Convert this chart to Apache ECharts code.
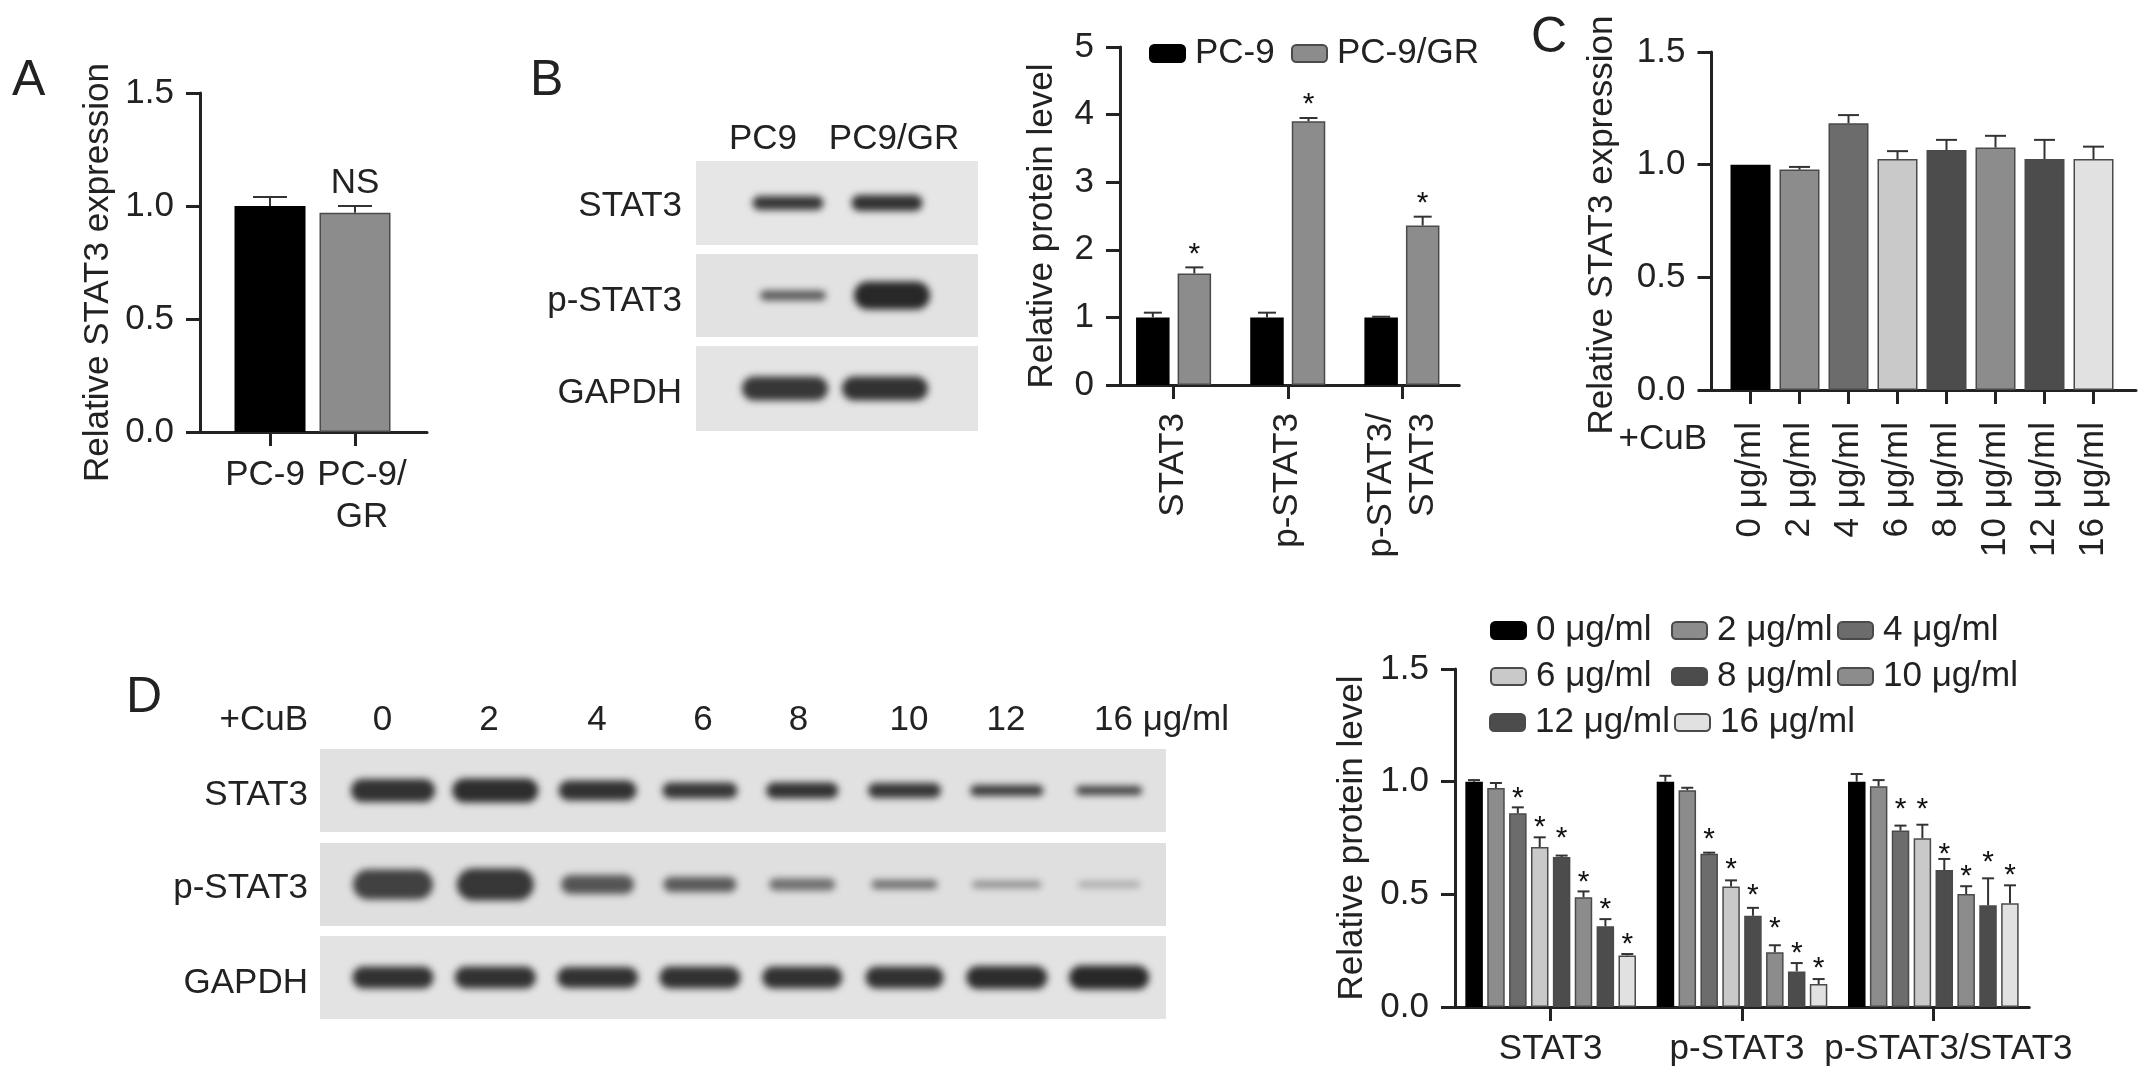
<!DOCTYPE html>
<html><head><meta charset="utf-8">
<script src="https://cdn.jsdelivr.net/npm/echarts@6/dist/echarts.min.js"></script>
<style>html,body{margin:0;padding:0;background:#fff}#c{width:2150px;height:1079px}</style>
</head><body><div id="c"></div>
<script>
// ---------- Panel A ----------
const aCategories = ['PC-9', 'PC-9/\nGR'];
const aValues = [1.0, 0.97];
const aErrTop = [1.04, 1.0];
const aMarkLevel = [null, 1.102];
// ---------- Panel B ----------
const bCategories = ['STAT3', 'p-STAT3', 'p-STAT3/\nSTAT3'];
const bSeriesNames = ['PC-9', 'PC-9/GR'];
const bPC9 = [1.0, 1.0, 1.0];
const bGR = [1.65, 3.9, 2.36];
const bPC9ErrTop = [1.07, 1.07, 1.01];
const bGRErrTop = [1.74, 3.95, 2.49];
const bGRStars = [2.01, 4.23, 2.77];
// ---------- Panel C ----------
const cCategories = ['0 μg/ml', '2 μg/ml', '4 μg/ml', '6 μg/ml', '8 μg/ml', '10 μg/ml', '12 μg/ml', '16 μg/ml'];
const cValues = [1.0, 0.978, 1.184, 1.025, 1.065, 1.076, 1.025, 1.025];
const cErrTop = [1.0, 0.99, 1.22, 1.06, 1.11, 1.128, 1.11, 1.08];
// ---------- Panel D (graph) ----------
const eCategories = ['STAT3', 'p-STAT3', 'p-STAT3/STAT3'];
const eSeriesNames = ['0 μg/ml', '2 μg/ml', '4 μg/ml', '6 μg/ml', '8 μg/ml', '10 μg/ml', '12 μg/ml', '16 μg/ml'];
const e0 = [1.0, 1.0, 1.0];
const e2 = [0.972, 0.962, 0.98];
const e4 = [0.86, 0.68, 0.783];
const e6 = [0.71, 0.535, 0.749];
const e8 = [0.666, 0.405, 0.608];
const e10 = [0.487, 0.243, 0.501];
const e12 = [0.358, 0.158, 0.451];
const e16 = [0.229, 0.102, 0.46];
const e0Err = [1.007, 1.026, 1.034];
const e2Err = [0.994, 0.973, 1.007];
const e4Err = [0.886, 0.685, 0.805];
const e6Err = [0.753, 0.562, 0.809];
const e8Err = [0.672, 0.44, 0.657];
const e10Err = [0.513, 0.274, 0.536];
const e12Err = [0.39, 0.195, 0.571];
const e16Err = [0.235, 0.124, 0.54];
const e4Star = [0.953, 0.768, 0.9];
const e6Star = [0.82, 0.636, 0.9];
const e8Star = [0.772, 0.521, 0.703];
const e10Star = [0.577, 0.373, 0.605];
const e12Star = [0.459, 0.262, 0.667];
const e16Star = [0.305, 0.198, 0.607];
// ---------- Western blot bands: [band width, band height, grey level] per lane ----------
const blotBLanes = ['PC9', 'PC9/GR'];
const blotBStat3 = [[75, 16, 55], [75, 18, 50]];
const blotBPStat3 = [[70, 12, 90], [80, 30, 40]];
const blotBGapdh = [[90, 26, 55], [90, 26, 50]];
const blotDLanes = ['0', '2', '4', '6', '8', '10', '12', '16'];
const blotDStat3 = [[88, 25, 50], [90, 26, 45], [82, 22, 50], [79, 18, 55], [76, 18, 50], [77, 17, 55], [77, 13, 60], [70, 11, 65]];
const blotDPStat3 = [[84, 32, 65], [81, 34, 55], [77, 21, 85], [77, 17, 90], [70, 14, 110], [70, 11, 110], [73, 9, 140], [66, 8, 165]];
const blotDGapdh = [[85, 24, 50], [85, 24, 50], [85, 23, 50], [85, 24, 50], [84, 24, 50], [82, 24, 50], [85, 25, 45], [84, 26, 40]];

const INK = '#222';
const FONT = 'Liberation Sans';
const TICK = 35, NAME = 35;
const GREYS = ['#000000', '#8c8c8c', '#6c6c6c', '#c9c9c9', '#4c4c4c', '#8c8c8c', '#4c4c4c', '#e1e1e1'];
const grid = [], xAxis = [], yAxis = [], series = [], legend = [], graphic = [];
const axisLine = { show: true, lineStyle: { color: INK, width: 3 } };
const axisTick = len => ({ show: true, length: len, lineStyle: { color: INK, width: 3 } });

function barPanel(o) {
  const g = grid.length;
  grid.push({ left: o.bandLeft, width: o.bandRight - o.bandLeft, top: o.top, height: o.bottom - o.top, outerBoundsMode: 'none', containLabel: false });
  xAxis.push({
    type: 'category', gridIndex: g, data: o.categories, boundaryGap: true,
    axisLine, axisTick: Object.assign(axisTick(14), { alignWithLabel: true }),
    axisLabel: { interval: 0, margin: o.labelMargin, fontSize: o.labelSize || TICK, color: INK, fontFamily: FONT, lineHeight: o.labelLineHeight || 40, rotate: o.labelRotate || 0, hideOverlap: false },
    splitLine: { show: false }
  });
  yAxis.push({
    type: 'value', gridIndex: g, min: 0, max: o.max, interval: o.interval, offset: o.bandLeft - o.axisX,
    axisLine, axisTick: axisTick(14),
    axisLabel: { margin: 26, fontSize: TICK, color: INK, fontFamily: FONT, padding: [7, 0, 0, 0], formatter: v => v.toFixed(o.digits), hideOverlap: false, showMinLabel: true, showMaxLabel: true },
    splitLine: { show: false },
    name: o.yName, nameLocation: 'middle', nameGap: o.nameGap, nameRotate: 90, nameMoveOverlap: false,
    nameTextStyle: { fontSize: NAME, color: INK, fontFamily: FONT, padding: o.namePadding || 0 }
  });
  // the baseline runs past the bars on both sides: a bare axis in a wider grid draws it
  const f = grid.length;
  grid.push({ left: o.axisX, width: o.lineEnd - o.axisX, top: o.top, height: o.bottom - o.top, outerBoundsMode: 'none', containLabel: false });
  xAxis.push({ type: 'value', gridIndex: f, min: 0, max: 1, axisLine, axisTick: { show: false }, axisLabel: { show: false }, splitLine: { show: false } });
  yAxis.push({ type: 'value', gridIndex: f, min: 0, max: 1, show: false });
  return g;
}

function errorSeries(g, rows, n, pitch, capW, markSize) {
  series.push({
    type: 'custom', xAxisIndex: g, yAxisIndex: g, z: 5, silent: true,
    data: rows.map(r => [r.cat, r.val, r.top, r.slot, r.mark == null ? -1 : r.mark]),
    encode: { x: 0, y: 2 },
    renderItem(params, api) {
      const off = (api.value(3) - (n - 1) / 2) * pitch;
      const base = api.coord([api.value(0), api.value(1)]);
      const top = api.coord([api.value(0), api.value(2)]);
      const x = base[0] + off;
      const kids = [];
      const ls = { stroke: '#333', lineWidth: 2, fill: null };
      if (api.value(2) > api.value(1)) {
        kids.push({ type: 'line', shape: { x1: x, y1: base[1], x2: x, y2: top[1] }, style: ls });
        kids.push({ type: 'line', shape: { x1: x - capW / 2, y1: top[1], x2: x + capW / 2, y2: top[1] }, style: ls });
      }
      const m = api.value(4);
      if (m >= 0) {
        const p = api.coord([api.value(0), m]);
        const txt = rows[params.dataIndex].markText || '*';
        const isStar = txt === '*';
        kids.push({ type: 'text', x: x, y: p[1] + (isStar ? markSize * 0.2 : 0),
          style: { text: txt, fill: isStar ? '#111' : INK, font: (isStar ? markSize : TICK) + 'px "' + FONT + '"', align: 'center', verticalAlign: 'middle' } });
      }
      return { type: 'group', children: kids };
    }
  });
}

function blotRow(left, right, top, bottom, laneA, laneGap, lanes, bands, bg) {
  const g = grid.length;
  grid.push({ left, width: right - left, top, height: bottom - top, show: true, backgroundColor: bg, borderWidth: 0, outerBoundsMode: 'none', containLabel: false });
  xAxis.push({ type: 'value', gridIndex: g, min: (left - laneA) / laneGap, max: (right - laneA) / laneGap, show: false });
  yAxis.push({ type: 'value', gridIndex: g, min: 0, max: 1, show: false });
  series.push({
    type: 'custom', xAxisIndex: g, yAxisIndex: g, silent: true, z: 3,
    data: lanes.map((l, i) => [i, 0.5, bands[i][0], bands[i][1], bands[i][2]]),
    encode: { x: 0, y: 1 },
    renderItem(params, api) {
      const c = api.coord([api.value(0), api.value(1)]);
      const w = api.value(2) - 4, h = Math.max(api.value(3) - 2, 3), v = api.value(4);
      const far = 5000;
      return { type: 'rect', shape: { x: c[0] - w / 2 - far, y: c[1] - h / 2, width: w, height: h, r: h / 2 },
        style: { fill: '#000', shadowBlur: 7, shadowOffsetX: far, shadowOffsetY: 0, shadowColor: 'rgb(' + v + ',' + v + ',' + v + ')' } };
    }
  });
}

function label(text, x, y, align, size) {
  graphic.push({ type: 'text', x, y, silent: true, style: { text, fill: INK, font: (size || TICK) + 'px "' + FONT + '"', align: align || 'right', verticalAlign: 'middle' } });
}
function legendItem(name, left, centerY) {
  legend.push({ show: true, data: [name], left, top: centerY - 19, padding: 0, itemGap: 0, itemWidth: 35, itemHeight: 17, selectedMode: false,
    textStyle: { fontSize: NAME, color: INK, fontFamily: FONT, padding: [0, 0, 0, 5] } });
}
const barStyle = c => ({ color: c, borderColor: c === '#000000' ? '#000' : '#4a4a4a', borderWidth: 1.5 });

// ---------- A ----------
const gA = barPanel({ axisX: 200, bandLeft: 227.5, bandRight: 397.5, lineEnd: 427, top: 93, bottom: 432, max: 1.5, interval: 0.5, digits: 1,
  categories: [{ value: aCategories[0], textStyle: { padding: [0, 10, 0, 0] } }, { value: aCategories[1], textStyle: { padding: [0, 0, 0, 14] } }],
  labelMargin: 22, labelLineHeight: 42, yName: 'Relative STAT3 expression', nameGap: 84, namePadding: [0, 20, 0, 0] });
series.push({ type: 'bar', xAxisIndex: gA, yAxisIndex: gA, barWidth: 71, silent: true, data: aValues.map((v, i) => ({ value: v, itemStyle: barStyle(GREYS[i]) })) });
errorSeries(gA, aValues.map((v, i) => ({ cat: i, val: v, top: aErrTop[i], slot: 0, mark: aMarkLevel[i], markText: 'NS' })), 1, 0, 34, 30);

// ---------- B ----------
const gB = barPanel({ axisX: 1120, bandLeft: 1116.5, bandRight: 1459, lineEnd: 1459, top: 47, bottom: 385, max: 5, interval: 1, digits: 0,
  categories: bCategories, labelMargin: 28, labelRotate: 90, labelLineHeight: 42, yName: 'Relative protein level', nameGap: 60, namePadding: [0, 20, 0, 0] });
[bPC9, bGR].forEach((d, i) => series.push({ type: 'bar', name: bSeriesNames[i], xAxisIndex: gB, yAxisIndex: gB, barWidth: 33.5, barGap: '24%', silent: true, data: d, itemStyle: barStyle(GREYS[i]) }));
const bRows = [];
bCategories.forEach((c, k) => {
  bRows.push({ cat: k, val: bPC9[k], top: bPC9ErrTop[k], slot: 0 });
  bRows.push({ cat: k, val: bGR[k], top: bGRErrTop[k], slot: 1, mark: bGRStars[k] });
});
errorSeries(gB, bRows, 2, 41.5, 18, 30);
legendItem(bSeriesNames[0], 1149, 55);
legendItem(bSeriesNames[1], 1291, 55);

// ---------- C ----------
const gC = barPanel({ axisX: 1711.5, bandLeft: 1726, bandRight: 2118, lineEnd: 2136, top: 52, bottom: 390, max: 1.5, interval: 0.5, digits: 1,
  categories: cCategories, labelMargin: 32, labelRotate: 90, yName: 'Relative STAT3 expression', nameGap: 92, namePadding: [0, 8, 0, 0] });
series.push({ type: 'bar', xAxisIndex: gC, yAxisIndex: gC, barWidth: 40, silent: true, data: cValues.map((v, i) => ({ value: v, itemStyle: barStyle(GREYS[i]) })) });
errorSeries(gC, cValues.map((v, i) => ({ cat: i, val: v, top: cErrTop[i], slot: 0 })), 1, 0, 21, 30);
label('+CuB', 1707, 439);

// ---------- D, graph ----------
const gE = barPanel({ axisX: 1455, bandLeft: 1455, bandRight: 2029, lineEnd: 2029, top: 669, bottom: 1007, max: 1.5, interval: 0.5, digits: 1,
  categories: [eCategories[0], { value: eCategories[1], textStyle: { padding: [0, 10, 0, 0] } }, { value: eCategories[2], textStyle: { padding: [0, 0, 0, 30] } }], labelMargin: 22, yName: 'Relative protein level', nameGap: 85 });
const eSeries = [e0, e2, e4, e6, e8, e10, e12, e16];
const eErr = [e0Err, e2Err, e4Err, e6Err, e8Err, e10Err, e12Err, e16Err];
const eStars = [null, null, e4Star, e6Star, e8Star, e10Star, e12Star, e16Star];
const eRows = [];
eSeries.forEach((d, i) => {
  series.push({ type: 'bar', name: eSeriesNames[i], xAxisIndex: gE, yAxisIndex: gE, barWidth: 17.5, barGap: '25%', silent: true, data: d, itemStyle: barStyle(GREYS[i]) });
  d.forEach((v, k) => eRows.push({ cat: k, val: v, top: eErr[i][k], slot: i, mark: eStars[i] ? eStars[i][k] : null }));
});
errorSeries(gE, eRows, 8, 21.9, 12, 30);
[[1490, 632], [1671, 632], [1837, 632], [1490, 678], [1671, 678], [1837, 678], [1489, 724], [1674, 724]]
  .forEach((p, i) => legendItem(eSeriesNames[i], p[0], p[1]));

// ---------- Blots ----------
blotRow(696, 978, 161, 245, 788, 99, blotBLanes, blotBStat3, '#e6e6e6');
blotRow(696, 978, 254, 337, 793, 99, blotBLanes, blotBPStat3, '#e2e2e2');
blotRow(696, 978, 346, 431, 785, 100, blotBLanes, blotBGapdh, '#e4e4e4');
blotRow(320, 1166, 749, 832, 393, 102.3, blotDLanes, blotDStat3, '#e1e1e1');
blotRow(320, 1166, 843, 926, 393, 102.3, blotDLanes, blotDPStat3, '#dfdfdf');
blotRow(320, 1166, 936, 1019, 393, 102.3, blotDLanes, blotDGapdh, '#e3e3e3');

label('STAT3', 682, 206); label('p-STAT3', 682, 301); label('GAPDH', 682, 393);
label('PC9', 763, 139, 'center'); label('PC9/GR', 894, 139, 'center');
label('STAT3', 308, 795); label('p-STAT3', 308, 888); label('GAPDH', 308, 983);
label('+CuB', 308, 720);
[['0', 382.5], ['2', 489], ['4', 597], ['6', 703], ['8', 798.5], ['10', 909], ['12', 1006]].forEach(p => label(p[0], p[1], 720, 'center'));
label('16 μg/ml', 1094, 720, 'left');

// panel letters
label('A', 12, 81, 'left', 50); label('B', 530, 81, 'left', 50); label('C', 1531, 38, 'left', 50); label('D', 126, 698, 'left', 50);

const chart = echarts.init(document.getElementById('c'), null, { renderer: 'canvas' });
chart.setOption({ animation: false, backgroundColor: '#fff', textStyle: { fontFamily: FONT }, grid, xAxis, yAxis, series, legend, graphic: { elements: graphic } });
</script></body></html>
